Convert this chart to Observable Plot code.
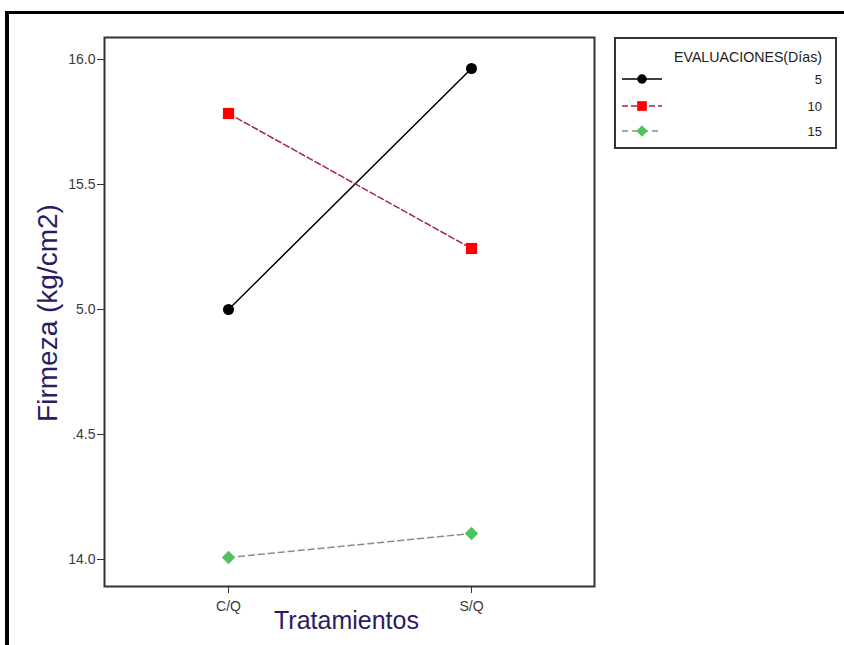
<!DOCTYPE html>
<html><head><meta charset="utf-8">
<script src="https://cdn.jsdelivr.net/npm/d3@7"></script>
<script src="https://cdn.jsdelivr.net/npm/@observablehq/plot@0.6"></script>
<style>
body{margin:0;background:#fff;}
#wrap{position:relative;width:844px;height:645px;overflow:hidden;background:#fff;}
#border{position:absolute;left:5px;top:11px;width:900px;height:700px;border-top:3px solid #000;border-left:4px solid #000;}
#chart{position:absolute;left:0;top:0;}
#legend{position:absolute;left:614px;top:37px;}
</style></head><body>
<div id="wrap"><div id="border"></div><div id="chart"></div><div id="legend"></div></div>
<script>
// ---- data ----
const tratamientos = ["C/Q", "S/Q"];
const dias = ["5", "10", "15"];
const firmeza5 = [15.00, 15.964];
const firmeza10 = [15.784, 15.244];
const firmeza15 = [14.008, 14.104];
const yTicks = [14.0, 14.5, 15.0, 15.5, 16.0];
const yTickLabels = ["14.0", ".4.5", "5.0", "15.5", "16.0"];
const legendTitle = "EVALUACIONES(Días)";
const yLabel = "Firmeza (kg/cm2)";
const xLabel = "Tratamientos";

// ---- styles ----
const seriesStyle = {
  "5":  {stroke: "#000000", dash: null,  symbol: "circle",   fill: "#000000", r: 5.5},
  "10": {stroke: "#a3283c", dash: "6,3", symbol: "square",   fill: "#ff0000", r: 6.3},
  "15": {stroke: "#8c8c8c", dash: "6,4", symbol: "diamond2", fill: "#4fc35f", r: 6}
};
const seriesValues = {"5": firmeza5, "10": firmeza10, "15": firmeza15};
const rows = dias.flatMap(d => tratamientos.map((t, i) => ({dia: d, trat: t, val: seriesValues[d][i]})));
const labelMap = new Map(yTicks.map((t, i) => [t, yTickLabels[i]]));
const font = "'Liberation Sans', Arial, sans-serif";
const labColor = "#2b1b63";

const marks = [
  Plot.frame({stroke: "#333", strokeWidth: 2}),
  Plot.axisY({ticks: yTicks, tickFormat: d => labelMap.get(d), tickSize: 7, tickPadding: 2, fontSize: 14, label: null, stroke: "#333", fill: "#3a3a3a"}),
  Plot.axisX({tickSize: 7, tickPadding: 8, fontSize: 14, label: null, stroke: "#333", fill: "#3a3a3a"})
];
for (const d of dias) {
  const s = seriesStyle[d];
  const data = rows.filter(r => r.dia === d);
  marks.push(Plot.line(data, {x: "trat", y: "val", stroke: s.stroke, strokeWidth: 1.5, strokeDasharray: s.dash}));
}
for (const d of dias) {
  const s = seriesStyle[d];
  const data = rows.filter(r => r.dia === d);
  marks.push(Plot.dot(data, {x: "trat", y: "val", symbol: () => s.symbol, fill: s.fill, stroke: "none", r: s.r}));
}
marks.push(Plot.text([yLabel], {text: d => d, frameAnchor: "left", dx: -56, dy: 1, rotate: -90, fontSize: 28, fill: labColor, textAnchor: "middle"}));
marks.push(Plot.text([xLabel], {text: d => d, frameAnchor: "bottom", dx: -3, dy: 42, fontSize: 25, fill: labColor, textAnchor: "middle"}));

const plot = Plot.plot({
  width: 844, height: 645,
  marginLeft: 104, marginRight: 250, marginTop: 37, marginBottom: 59,
  x: {type: "point", domain: tratamientos, padding: 0.508, label: null},
  y: {domain: [13.892, 16.088], label: null},
  symbol: {type: "identity"},
  style: {fontFamily: font, background: "transparent"},
  marks
});
document.getElementById("chart").append(plot);

// ---- legend ----
const lg = d3.select("#legend").append("svg").attr("width", 224).attr("height", 113).style("font-family", font);
lg.append("rect").attr("x", 1).attr("y", 1).attr("width", 221).attr("height", 110).attr("fill", "#fff").attr("stroke", "#333").attr("stroke-width", 2);
lg.append("text").attr("x", 208).attr("y", 25).attr("text-anchor", "end").attr("font-size", 15)
  .attr("textLength", 148).attr("lengthAdjust", "spacingAndGlyphs").attr("fill", "#222").text(legendTitle);
const rowY = [42, 69, 94];
const symMap = {circle: d3.symbolCircle, square: d3.symbolSquare, diamond2: d3.symbolDiamond2};
dias.forEach((d, i) => {
  const s = seriesStyle[d];
  const g = lg.append("g").attr("transform", `translate(0,${rowY[i]})`);
  g.append("line").attr("x1", 8).attr("x2", 48).attr("stroke", s.stroke).attr("stroke-width", 1.5).attr("stroke-dasharray", s.dash);
  g.append("path").attr("transform", "translate(28,0)").attr("d", d3.symbol(symMap[s.symbol], Math.PI * s.r * s.r * 0.75)()).attr("fill", s.fill);
  g.append("text").attr("x", 208).attr("y", 5).attr("text-anchor", "end").attr("font-size", 13).attr("fill", "#222").text(d);
});
</script>
</body></html>
